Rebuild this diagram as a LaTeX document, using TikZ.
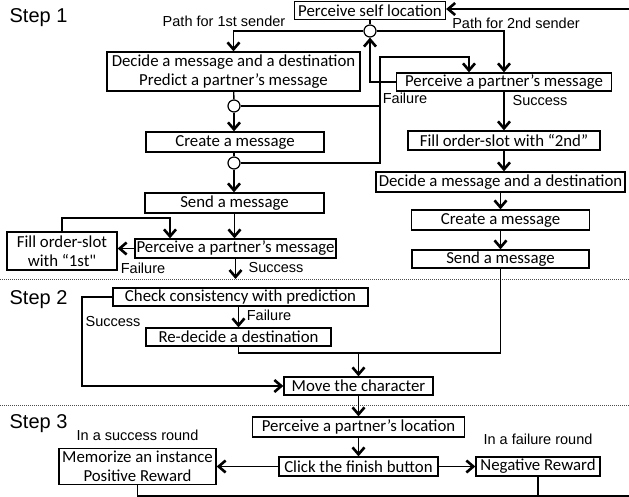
\documentclass[tikz,border=0pt]{standalone}
\usepackage{fontspec}
\newfontfamily\calfont{Carlito}
\newfontfamily\arialfont{Liberation Sans}
\usepackage{tikz}
\usetikzlibrary{positioning}
\usetikzlibrary{arrows.meta}

\newcommand{\boxfont}{\calfont\fontsize{16.8}{19}\selectfont}
\newcommand{\lblfont}{\arialfont\fontsize{14.5}{16}\selectfont}
\newcommand{\stepfont}{\arialfont\fontsize{20}{22}\selectfont}

\begin{document}
\begin{tikzpicture}[x=1pt, y=-1pt, line width=1.3pt,
    >={Straight Barb[length=7pt, width=12pt, line width=2.6pt]},
    box/.style={draw, line width=1.3pt, inner sep=1pt, minimum height=18pt, align=center, font=\boxfont},
    junc/.style={draw, fill=white, circle, line width=1.2pt, inner sep=0pt, minimum size=12pt},
    lbl/.style={inner sep=0pt, font=\lblfont},
    steplbl/.style={inner sep=0pt, anchor=west, font=\stepfont},
    sep/.style={densely dotted, line width=1pt, black!70}]
    \useasboundingbox (0,0) rectangle (629,497);

    % step 1
    \node[box, minimum width=151pt] (self) at (370,10.5) {Perceive self location};
    \node[junc] (j1) at (370,31) {};
    \node[box, minimum width=253pt, minimum height=39pt] (decA) at (233.5,71.5) {Decide a message and a destination\\Predict a partner’s message};
    \node[junc] (j2) at (234,106) {};
    \node[box, minimum width=178pt, minimum height=20pt] (creA) at (235,142) {Create a message};
    \node[junc] (j3) at (234,163) {};
    \node[box, minimum width=179pt, minimum height=20pt] (sendA) at (234.5,203) {Send a message};
    \node[box, minimum width=201pt, minimum height=19pt] (perA) at (235.5,248.5) {Perceive a partner’s message};
    \node[box, minimum width=110pt, minimum height=38pt] (fillA) at (62,251) {Fill order-slot\\with “1st"};

    \node[box, minimum width=215pt] (perB) at (504,82) {Perceive a partner’s message};
    \node[box, minimum width=192pt, minimum height=19pt] (fillB) at (504,140.5) {Fill order-slot with “2nd”};
    \node[box, minimum width=249pt, minimum height=20pt] (decB) at (500.5,182) {Decide a message and a destination};
    \node[box, minimum width=178pt, minimum height=20pt] (creB) at (500.5,220) {Create a message};
    \node[box, minimum width=177pt] (sendB) at (500.5,259) {Send a message};

    \coordinate (loopA) at (380,57);
    \coordinate (loopB) at (469,57);
    \coordinate (kA) at (170,218);
    \coordinate (sA) at (235.5,279);
    \coordinate (bl) at (629.5,496);
    \coordinate (tl) at (629.5,9);

    \draw (self) -- (j1);
    \draw[->] (j1) -| (decA);
    \draw[->] (j1) -| (perB);
    \draw[->] (perB.west) -| (j1);
    \draw (decA) -- (j2);
    \draw[->] (j2) -- (j2 |- creA.north);
    \draw[->] (j2) -| (loopA) -- (loopB) -- (loopB |- perB.north);
    \draw (creA.south -| j3) -- (j3);
    \draw (j3) -| (loopA);
    \draw[->] (j3) -- (j3 |- sendA.north);
    \draw[->] (sendA) -- (sendA |- perA.north);
    \draw[->] (fillA.north) |- (kA) -- (kA |- perA.north);
    \draw[->] (perA.west) -- (perA.west -| fillA.east);
    \draw[->] (perA) -- (sA);
    \draw[->] (perB) -- (fillB);
    \draw[->] (fillB) -- (fillB |- decB.north);
    \draw[->] (decB) -- (creB);
    \draw[->] (creB) -- (sendB);

    \node[steplbl] (st1) at (9,18) {Step 1};
    \node[lbl] (pf1) at (224,21) {Path for 1st sender};
    \node[lbl] (pf2) at (516,23) {Path for 2nd sender};
    \node[lbl] (fl1) at (405,98) {Failure};
    \node[lbl] (sc1) at (540,101) {Success};
    \node[lbl] (fl2) at (143,268) {Failure};
    \node[lbl] (sc2) at (276,268) {Success};

    \draw[sep] (0,279) -- (629,279);

    % step 2
    \node[box, minimum width=255pt] (check) at (240.5,297) {Check consistency with prediction};
    \node[box, minimum width=185pt] (redec) at (238.5,337) {Re-decide a destination};
    \node[box, minimum width=149pt] (move) at (358.5,386) {Move the character};
    \coordinate (mj) at (358.5,353);
    \coordinate (sk) at (82,297);

    \draw[->] (redec.north |- check.south) -- (redec);
    \draw (redec) |- (mj);
    \draw (sendB) |- (mj);
    \draw[->] (mj) -- (move);
    \draw[->] (check.west) -- (sk) |- (move);

    \node[steplbl] (st2) at (9,300) {Step 2};
    \node[lbl] (fl3) at (269,315) {Failure};
    \node[lbl] (sc3) at (113,322) {Success};

    \draw[sep] (0,405) -- (629,405);

    % step 3
    \node[box, minimum width=212pt, minimum height=20pt] (perLoc) at (358.5,427) {Perceive a partner’s location};
    \node[box, minimum width=159pt, minimum height=19pt] (click) at (358.5,466.5) {Click the finish button};
    \node[box, minimum width=157pt, minimum height=36pt] (memo) at (137.5,466.5) {Memorize an instance\\Positive Reward};
    \node[box, minimum width=124pt, minimum height=19pt] (negR) at (538,466.5) {Negative Reward};

    \draw[->] (move) -- (perLoc);
    \draw[->] (perLoc) -- (click);
    \draw[->] (click) -- (memo);
    \draw[->] (click) -- (negR);
    \draw[->] (memo) |- (bl) -- (tl) -- (tl -| self.east);
    \draw (negR) -- (negR |- bl);

    \node[steplbl] (st3) at (9,424) {Step 3};
    \node[lbl, above=7pt of memo] (rs) {In a success round};
    \node[lbl, above=11pt of negR] (rf) {In a failure round};
\end{tikzpicture}
\end{document}
